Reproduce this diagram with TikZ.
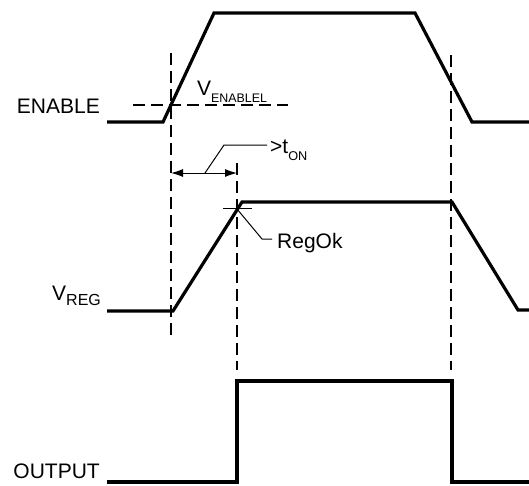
\documentclass[tikz,border=0pt]{standalone}
\usepackage{fontspec}
\setmainfont{Liberation Sans}
\usetikzlibrary{arrows.meta}

\tikzset{
    wave/.style={line width=3.2pt, line join=miter},
    guide/.style={line width=1.3pt, dash pattern=on 12pt off 6pt},
    leader/.style={line width=1pt},
    lbl/.style={font=\fontsize{21}{21}\selectfont, inner sep=0pt},
}

\begin{document}
\begin{tikzpicture}[x=1pt,y=-1pt]
        \useasboundingbox (0,0) rectangle (529,485);
        \begin{scope}
            % guide lines
            \draw [guide] (171,53) -- (171,335);
            \draw [guide] (237,163) -- (237,370);
            \draw [guide] (451,55) -- (451,370);
            \draw [guide] (133,105) -- (288,105);
            % waveforms
            \draw [wave] (107,122) -- (163,122) -- (214,13) -- (415,13) -- (472,122) -- (529,122);
            \draw [wave] (107,311) -- (173,311) -- (242,202) -- (452,202) -- (518,310) -- (529,310);
            \draw [wave] (107,482) -- (237,482) -- (237,381) -- (452,381) -- (452,482) -- (529,482);
            % t_on arrow and leaders
            \draw [leader, {Latex[length=12pt,width=8pt]}-{Latex[length=12pt,width=8pt]}] (171,173) -- (237,173);
            \draw [leader] (205,173) -- (224,145) -- (267,145);
            \draw [leader] (223,208) -- (252,208);
            \draw [leader] (237,209) -- (262,239) -- (272,239);
            % labels
            \node [lbl, anchor=base east] (enable) at (100,113) {ENABLE};
            \node [lbl, anchor=base east] (output) at (100,478) {OUTPUT};
            \node [lbl, anchor=base west] (regok) at (277,248) {RegOk};
            \node [lbl, anchor=base west] (vreg) at (52,300) {V\raisebox{-5pt}{\fontsize{16}{16}\selectfont REG}};
            \node [lbl, anchor=base west] (venl) at (197,95) {V\raisebox{-7pt}{\fontsize{12.4}{12.4}\selectfont ENABLEL}};
            \node [lbl, anchor=base west] (ton) at (270,153) {>t\raisebox{-7pt}{\fontsize{12.7}{12.7}\selectfont ON}};
        \end{scope}
    \end{tikzpicture}
\end{document}
